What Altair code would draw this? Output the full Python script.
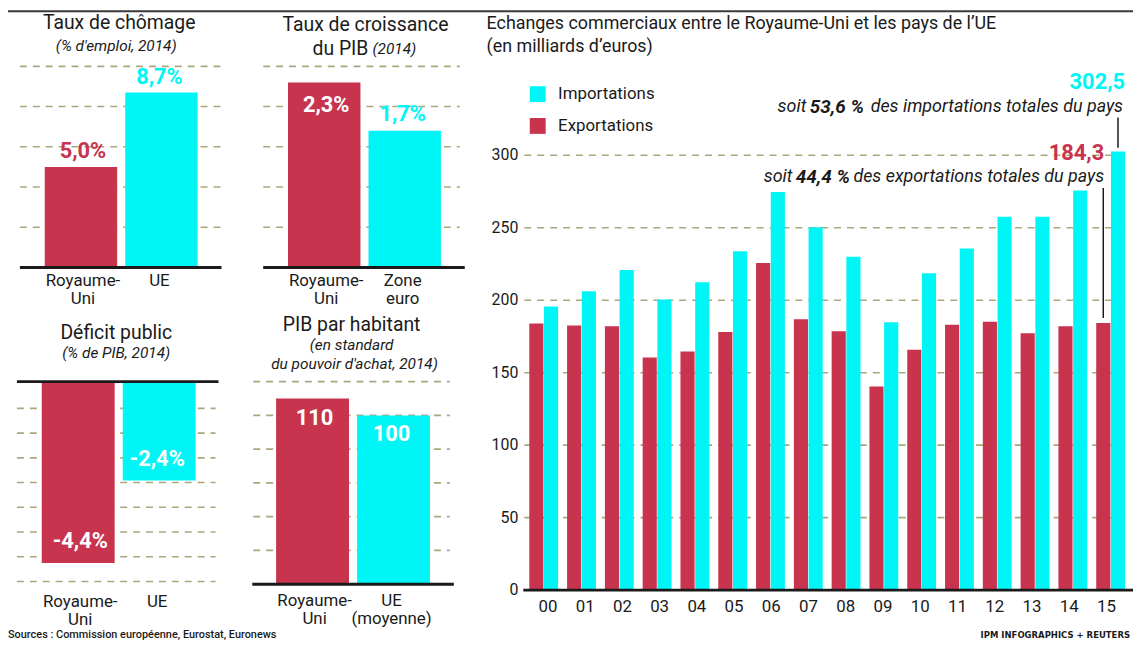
import altair as alt
import pandas as pd

RED = "#c8334e"
CYAN = "#00f6f6"
GRID = "#aca67c"
INK = "#1a1a1a"
FONT = "Roboto"
OX = OY = 8  # page margin
W, H = 1133, 639

def X(v):
    return v - OX

def Y(v):
    return v - OY

# ---------------- data ----------------
chom_cats = ["Royaume-Uni", "UE"]
chom_names = ["Royaume-\nUni", "UE"]
chom_vals = [5.0, 8.7]
chom_text = ["5,0%", "8,7%"]
chom_ticks = [2, 4, 6, 8, 10]

pib_cats = ["Royaume-Uni", "Zone euro"]
pib_names = ["Royaume-\nUni", "Zone\neuro"]
pib_vals = [2.3, 1.7]
pib_text = ["2,3%", "1,7%"]
pib_ticks = [0.5, 1.0, 1.5, 2.0, 2.5]

def_cats = ["Royaume-Uni", "UE"]
def_names = ["Royaume-\nUni", "UE"]
def_vals = [-4.4, -2.4]
def_text = ["-4,4%", "-2,4%"]
def_ticks = [-0.65, -1.25, -1.85, -2.45, -3.05, -3.65, -4.25, -4.85]

hab_cats = ["Royaume-Uni", "UE (moyenne)"]
hab_names = ["Royaume-\nUni", "UE\n(moyenne)"]
hab_vals = [110, 100]
hab_text = ["110", "100"]
hab_ticks = [20, 40, 60, 80, 100, 120]

years = ["00", "01", "02", "03", "04", "05", "06", "07",
         "08", "09", "10", "11", "12", "13", "14", "15"]
exports = [184.0, 182.6, 182.0, 160.5, 164.6, 178.1, 225.6, 186.8,
           178.5, 140.4, 165.8, 183.1, 185.2, 177.2, 182.0, 184.3]
imports = [195.7, 206.2, 220.8, 200.5, 212.3, 233.8, 274.7, 250.4,
           229.9, 184.7, 218.5, 235.6, 257.5, 257.5, 275.6, 302.5]
trade_ticks = [0, 50, 100, 150, 200, 250, 300]
series = ["Exportations", "Importations"]

layers = []


def txt(s, x, y, size=16, weight="normal", style="normal", align="center",
        color=INK, baseline="middle", font=FONT):
    return alt.Chart(pd.DataFrame({"s": [s]})).mark_text(
        align=align, baseline=baseline, fontSize=size, fontWeight=weight,
        fontStyle=style, color=color, font=font
    ).encode(text="s:N", x=alt.value(X(x)), y=alt.value(Y(y)))


def small_panel(cats, names, vals, texts, ticks, ydom, ybot, ytop, xa, xb,
                gx0, gx1, bx0, bx1, base_val, labels, cat_y):
    xs = alt.Scale(domain=cats, range=[X(xa), X(xb)], paddingInner=0.1, paddingOuter=0)
    ys = alt.Scale(domain=ydom, range=[Y(ybot), Y(ytop)], nice=False)
    df = pd.DataFrame({"cat": cats, "name": names, "val": vals, "txt": texts})
    out = []
    out.append(alt.Chart(pd.DataFrame({"t": ticks})).mark_rule(
        color=GRID, strokeWidth=1.6, strokeDash=[7, 6]).encode(
        y=alt.Y("t:Q", scale=ys, axis=None),
        x=alt.value(X(gx0)), x2=alt.value(X(gx1))))
    out.append(alt.Chart(df).mark_bar().encode(
        x=alt.X("cat:N", scale=xs, axis=None),
        y=alt.Y("val:Q", scale=ys, axis=None),
        color=alt.Color("cat:N", scale=alt.Scale(domain=cats, range=[RED, CYAN]), legend=None)))
    out.append(alt.Chart(pd.DataFrame({"t": [base_val]})).mark_rule(
        color=INK, strokeWidth=3).encode(
        y=alt.Y("t:Q", scale=ys, axis=None),
        x=alt.value(X(bx0)), x2=alt.value(X(bx1))))
    for i, (dy, col) in enumerate(labels):
        out.append(alt.Chart(df).transform_filter(
            alt.datum.cat == cats[i]).mark_text(
            baseline="alphabetic", dy=dy, fontSize=22, fontWeight="bold",
            font=FONT, color=col).encode(
            x=alt.X("cat:N", scale=xs, axis=None),
            y=alt.Y("val:Q", scale=ys, axis=None),
            text="txt:N"))
    out.append(alt.Chart(df).mark_text(
        baseline="middle", fontSize=17, font=FONT, color=INK,
        lineBreak="\n", lineHeight=18).encode(
        x=alt.X("cat:N", scale=xs, axis=None),
        y=alt.value(Y(cat_y)),
        text="name:N"))
    return out


# top border
layers.append(alt.Chart(pd.DataFrame({"t": [0]})).mark_rule(
    color="#3a3a3a", strokeWidth=2).encode(
    x=alt.value(0), x2=alt.value(W), y=alt.value(1)))

# Panel 1
layers += small_panel(chom_cats, chom_names, chom_vals, chom_text, chom_ticks,
                      [0, 10], 267, 64.5, 45, 199, 20, 222, 20, 223, 0,
                      [(-9, RED), (-9, CYAN)], 281)
layers.append(txt("Taux de chômage", 120, 21, size=19.5))
layers.append(txt("(% d'emploi, 2014)", 117, 44, size=15.5, style="italic"))

# Panel 2
layers += small_panel(pib_cats, pib_names, pib_vals, pib_text, pib_ticks,
                      [0, 2.5], 267, 64.5, 290, 444, 265, 463, 265, 468, 0,
                      [(30, "white"), (-10, CYAN)], 281)
layers.append(txt("Taux de croissance", 368, 23, size=19.5))
layers.append(txt("du PIB", 371, 47, size=19.5, align="right"))
layers.append(txt("(2014)", 375, 47, size=15.5, style="italic", align="left"))

# Panel 3
layers += small_panel(def_cats, def_names, def_vals, def_text, def_ticks,
                      [-5, 0], 589.5, 382, 42, 197, 17, 217, 17, 220, 0,
                      [(-15, "white"), (-15, "white")], 604)
layers.append(txt("Déficit public", 117, 333, size=19.5))
layers.append(txt("(% de PIB, 2014)", 117, 353, size=15.5, style="italic"))

# Panel 4
layers += small_panel(hab_cats, hab_names, hab_vals, hab_text, hab_ticks,
                      [0, 120], 586, 382, 278, 433, 255, 453, 254, 457, 0,
                      [(27, "white"), (26, "white")], 603)
layers.append(txt("PIB par habitant", 354, 325, size=19.5))
layers.append(txt("(en standard", 354, 345, size=15.5, style="italic"))
layers.append(txt("du pouvoir d'achat, 2014)", 357, 364, size=15.5, style="italic"))

layers.append(txt("Sources : Commission européenne, Eurostat, Euronews", 8, 637,
                  size=11, weight=500, align="left"))

# ---------------- main chart ----------------
xs = alt.Scale(domain=years, range=[X(533), X(1133)], paddingInner=0.237, paddingOuter=0)
xo = alt.Scale(domain=series, paddingInner=0.04)
ys = alt.Scale(domain=[0, 300], range=[Y(592), Y(154)], nice=False)

trade = pd.DataFrame({
    "year": years * 2,
    "series": ["Exportations"] * len(years) + ["Importations"] * len(years),
    "value": exports + imports,
})

layers.append(alt.Chart(pd.DataFrame({"t": trade_ticks[1:]})).mark_rule(
    color=GRID, strokeWidth=1.6, strokeDash=[7, 6]).encode(
    y=alt.Y("t:Q", scale=ys, axis=None),
    x=alt.value(X(528)), x2=alt.value(X(1136))))

layers.append(alt.Chart(pd.DataFrame({"t": trade_ticks})).mark_text(
    align="right", baseline="middle", fontSize=16, font=FONT, color=INK).encode(
    y=alt.Y("t:Q", scale=ys, axis=None),
    x=alt.value(X(522)),
    text="t:N"))

layers.append(alt.Chart(trade).mark_bar().encode(
    x=alt.X("year:N", scale=xs, axis=None),
    xOffset=alt.XOffset("series:N", scale=xo),
    y=alt.Y("value:Q", scale=ys, axis=None),
    color=alt.Color("series:N",
                    scale=alt.Scale(domain=["Importations", "Exportations"], range=[CYAN, RED]),
                    legend=alt.Legend(orient="none", legendX=X(533), legendY=Y(84), title=None,
                                      symbolType="square", symbolSize=256, symbolStrokeWidth=0,
                                      labelFontSize=17, labelFont=FONT, labelColor=INK,
                                      rowPadding=14, labelOffset=12, padding=0))))

layers.append(alt.Chart(pd.DataFrame({"t": [0]})).mark_rule(
    color=INK, strokeWidth=3).encode(
    y=alt.Y("t:Q", scale=ys, axis=None),
    x=alt.value(X(527)), x2=alt.value(X(1141))))

layers.append(alt.Chart(pd.DataFrame({"year": years})).mark_text(
    baseline="middle", fontSize=17, font=FONT, color=INK).encode(
    x=alt.X("year:N", scale=xs, axis=None),
    y=alt.value(Y(609)),
    text="year:N"))

last = trade[trade["year"] == years[-1]]
layers.append(alt.Chart(last[last["series"] == "Importations"]).mark_rule(
    color=INK, strokeWidth=1.5, yOffset=-4).encode(
    x=alt.X("year:N", scale=xs, axis=None),
    xOffset=alt.XOffset("series:N", scale=xo),
    y=alt.Y("value:Q", scale=ys, axis=None),
    y2=alt.value(Y(116))))
layers.append(alt.Chart(last[last["series"] == "Exportations"]).mark_rule(
    color=INK, strokeWidth=1.5, yOffset=-5).encode(
    x=alt.X("year:N", scale=xs, axis=None),
    xOffset=alt.XOffset("series:N", scale=xo),
    y=alt.Y("value:Q", scale=ys, axis=None),
    y2=alt.value(Y(187))))

layers.append(txt("Echanges commerciaux entre le Royaume-Uni et les pays de l\u2019UE", 490, 22,
                  size=18, align="left"))
layers.append(txt("(en milliards d\u2019euros)", 490, 45, size=18, align="left"))

# annotation line 1 (chained from the right)
layers.append(txt("302,5", 1133, 80, size=22, weight="bold", align="right", color=CYAN))
layers.append(txt("des importations totales du pays", 1131, 105, size=18, style="italic", align="right"))
layers.append(txt("53,6 %", 870, 105, size=19, style="italic", weight="bold", align="right"))
layers.append(txt("soit", 812, 105, size=18, style="italic", align="right"))

# annotation line 2
layers.append(txt("184,3", 1112, 152, size=22, weight="bold", align="right", color=RED))
layers.append(txt("des exportations totales du pays", 1112, 176, size=18, style="italic", align="right"))
layers.append(txt("44,4 %", 856, 176, size=19, style="italic", weight="bold", align="right"))
layers.append(txt("soit", 798, 176, size=18, style="italic", align="right"))

layers.append(txt("IPM INFOGRAPHICS + REUTERS", 1138, 637, size=9.5, weight="bold",
                  align="right", font="'DejaVu Sans Condensed', 'DejaVu Sans', Roboto"))

chart = alt.layer(*layers).resolve_scale(
    x="independent", y="independent", color="independent", xOffset="independent"
).properties(
    width=W, height=H, padding=0, autosize=alt.AutoSizeParams(type="none")
).configure_view(stroke=None)

chart.save("out.html", embed_options={"renderer": "svg", "actions": False})
